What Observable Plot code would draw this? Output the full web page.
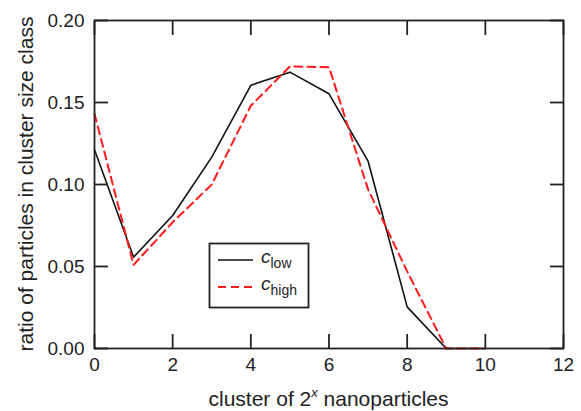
<!DOCTYPE html>
<html><head><meta charset="utf-8">
<script src="https://cdn.jsdelivr.net/npm/d3@7"></script>
<script src="https://cdn.jsdelivr.net/npm/@observablehq/plot@0.6"></script>
</head><body style="margin:0;padding:0;background:#fff"><div id="chart"></div>
<script>
const clusterExp = [0, 1, 2, 3, 4, 5, 6, 7, 8, 9, 10];
const cLow  = [0.1212, 0.0557, 0.0811, 0.1167, 0.1605, 0.1685, 0.1553, 0.1142, 0.0254, 0, 0];
const cHigh = [0.1431, 0.0510, 0.0770, 0.1000, 0.1480, 0.1720, 0.1715, 0.0970, 0.0470, 0, 0];
const xTicks = [0, 2, 4, 6, 8, 10, 12];
const yTicks = [0, 0.05, 0.10, 0.15, 0.20];
const seriesKeys = ["low", "high"];
const yTitle = "ratio of particles in cluster size class";

const lowData = clusterExp.map((x, i) => ({x, y: cLow[i]}));
const highData = clusterExp.map((x, i) => ({x, y: cHigh[i]}));

const W = 581, H = 411;
const mL = 94, mR = 18, mT = 20, mB = 63;
const plotW = W - mL - mR, plotH = H - mT - mB;
const axisColor = "#222";
const T = 14;

const chart = Plot.plot({
  width: W, height: H,
  marginLeft: mL, marginRight: mR, marginTop: mT, marginBottom: mB,
  style: {fontFamily: '"Liberation Sans", Arial, sans-serif', background: "#fff", color: axisColor},
  x: {domain: [0, 12]},
  y: {domain: [0, 0.20]},
  marks: [
    Plot.axisX(xTicks, {anchor: "bottom", tickSize: 0, tickPadding: 9, fontSize: 19, tickFormat: d => String(d), label: null}),
    Plot.axisY(yTicks, {anchor: "left", tickSize: 0, tickPadding: 10, fontSize: 19, tickFormat: d => d.toFixed(2), label: null}),
    Plot.line(lowData, {x: "x", y: "y", stroke: "#111", strokeWidth: 1.6}),
    Plot.line(highData, {x: "x", y: "y", stroke: "#ff1a1a", strokeWidth: 2, strokeDasharray: "8,5"}),
    Plot.frame({strokeWidth: 1.8}),
    Plot.axisX(xTicks, {anchor: "bottom", tickSize: T, dy: -T, tickFormat: () => "", label: null, strokeWidth: 1.8}),
    Plot.axisX(xTicks, {anchor: "top", tickSize: T, dy: T, tickFormat: () => "", label: null, strokeWidth: 1.8}),
    Plot.axisY(yTicks, {anchor: "left", tickSize: T, dx: T, tickFormat: () => "", label: null, strokeWidth: 1.8}),
    Plot.axisY(yTicks, {anchor: "right", tickSize: T, dx: -T, tickFormat: () => "", label: null, strokeWidth: 1.8})
  ]
});
document.getElementById("chart").appendChild(chart);

const svg = d3.select(chart);
const cx = mL + plotW / 2;
const cy = mT + plotH / 2;

const xt = svg.append("text")
  .attr("x", cx).attr("y", 406)
  .attr("text-anchor", "middle")
  .attr("font-size", 21).attr("fill", axisColor);
xt.append("tspan").text("cluster of 2");
xt.append("tspan").attr("font-size", 13).attr("font-style", "italic").attr("dy", -9).text("x");
xt.append("tspan").attr("dy", 9).text(" nanoparticles");

svg.append("text")
  .attr("transform", `translate(33,${cy}) rotate(-90)`)
  .attr("text-anchor", "middle")
  .attr("font-size", 21).attr("fill", axisColor)
  .text(yTitle);

const lg = svg.append("g");
lg.append("rect").attr("x", 209.5).attr("y", 243.5).attr("width", 99).attr("height", 64)
  .attr("fill", "#fff").attr("stroke", axisColor).attr("stroke-width", 1.8);
const rows = [
  {key: seriesKeys[0], stroke: "#111", dash: null, w: 1.6, y: 260},
  {key: seriesKeys[1], stroke: "#ff1a1a", dash: "8,5", w: 2, y: 287}
];
rows.forEach(r => {
  lg.append("line").attr("x1", 218).attr("x2", 253).attr("y1", r.y).attr("y2", r.y)
    .attr("stroke", r.stroke).attr("stroke-width", r.w).attr("stroke-dasharray", r.dash);
  const t = lg.append("text").attr("x", 261).attr("y", r.y + 3)
    .attr("text-anchor", "start").attr("font-size", 19).attr("fill", axisColor);
  t.append("tspan").attr("font-style", "italic").text("c");
  t.append("tspan").attr("font-size", 14).attr("dy", 5).text(r.key);
});
</script>
</body></html>
